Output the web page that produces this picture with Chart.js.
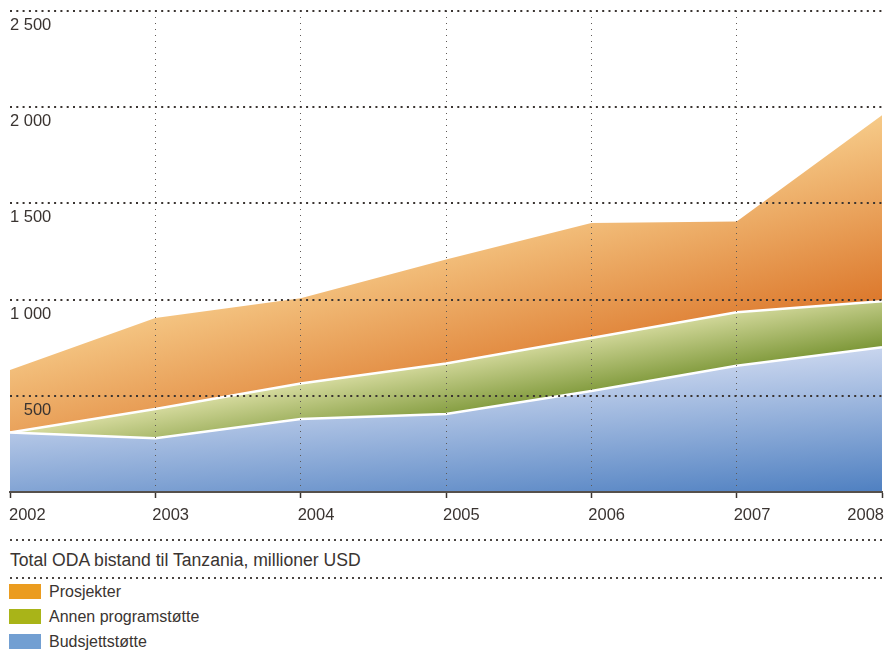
<!DOCTYPE html>
<html>
<head>
<meta charset="utf-8">
<script src="https://cdn.jsdelivr.net/npm/chart.js@4"></script>
<style>
  body { margin: 0; background: #fff; font-family: "Liberation Sans", Arial, sans-serif; color: #3a3431; }
  #wrap { position: relative; width: 886px; height: 650px; }
  #chart { position: absolute; left: 0; top: 0; }
  .dots { position: absolute; left: 10px; width: 872px; height: 2px;
          background-image: linear-gradient(to right, #4a4542 2px, transparent 2px); background-size: 6px 2px; }
  #title { position: absolute; left: 10px; top: 549px; font-size: 17.6px; line-height: 22px; white-space: nowrap; }
  .item { position: absolute; left: 9px; height: 15px; }
  .item .box { position: absolute; left: 0; top: 0; width: 32px; height: 15px; }
  .item .txt { position: absolute; left: 40px; top: -1px; font-size: 16px; line-height: 18px; white-space: nowrap; }
</style>
</head>
<body>
<div id="wrap">
  <canvas id="chart" width="886" height="530"></canvas>
  <div class="dots" style="top:539px"></div>
  <div id="title">Total ODA bistand til Tanzania, millioner USD</div>
  <div class="dots" style="top:577px"></div>
  <div id="legend"></div>
</div>
<script>
// data, millioner USD
const years = ['2002', '2003', '2004', '2005', '2006', '2007', '2008'];
const budsjett = [309, 280, 379, 405, 525, 656, 752];
const annen = [0, 151, 185, 263, 275, 278, 239];
const prosjekter = [325, 474, 443, 540, 598, 472, 967];
const yTickLabels = ['', '500', '1 000', '1 500', '2 000', '2 500'];

const seriesNames = ['Prosjekter', 'Annen programstøtte', 'Budsjettstøtte'];
const legendColors = ['#eb9c1f', '#a9b418', '#729fd2'];

// cumulative tops for the gradients
const top1 = budsjett;
const top2 = budsjett.map((v, i) => v + annen[i]);
const top3 = top2.map((v, i) => v + prosjekter[i]);
const zero = years.map(() => 0);

function layerGrad(chart, top, bottom, pad, s, light, dark) {
  const area = chart.chartArea;
  if (!area) return light;
  const y = chart.scales.y;
  const x0 = area.right;
  const y0 = y.getPixelForValue(Math.max(...top)) - pad;
  const y1 = y.getPixelForValue(Math.max(...bottom));
  const h = y1 - y0;
  const g = chart.ctx.createLinearGradient(x0, y0, x0 + s * h / (1 + s * s), y0 + h / (1 + s * s));
  g.addColorStop(0, light);
  g.addColorStop(1, dark);
  return g;
}

const textColor = '#3a3431';
const font = { family: '"Liberation Sans", Arial, sans-serif', size: 16.5 };

const xLabelsPlugin = {
  id: 'xLabels',
  afterDraw(chart) {
    const ctx = chart.ctx, x = chart.scales.x;
    const yPos = chart.chartArea.bottom + 23;
    ctx.save();
    ctx.font = '16.5px "Liberation Sans", Arial, sans-serif';
    ctx.fillStyle = textColor;
    ctx.textBaseline = 'middle';
    years.forEach((lab, i) => {
      const px = x.getPixelForValue(i);
      if (i === years.length - 1) { ctx.textAlign = 'right'; ctx.fillText(lab, px + 2, yPos); }
      else if (i === 0) { ctx.textAlign = 'left'; ctx.fillText(lab, px - 1, yPos); }
      else { ctx.textAlign = 'left'; ctx.fillText(lab, px - 3, yPos); }
    });
    ctx.restore();
  }
};

new Chart(document.getElementById('chart'), {
  type: 'line',
  data: {
    labels: years,
    datasets: [
      {
        label: seriesNames[2],
        data: budsjett,
        fill: 'origin',
        borderColor: '#ffffff',
        borderWidth: 2.5,
        pointRadius: 0,
        backgroundColor: c => layerGrad(c.chart, top1, zero, 3, 0.07, '#cbd7ef', '#4f80c1')
      },
      {
        label: seriesNames[1],
        data: annen,
        fill: '-1',
        borderColor: '#ffffff',
        borderWidth: 2.5,
        pointRadius: 0,
        backgroundColor: c => layerGrad(c.chart, top2, top1, 19, 0.17, '#d9dda2', '#7b9636')
      },
      {
        label: seriesNames[0],
        data: prosjekter,
        fill: '-1',
        borderColor: 'rgba(255,255,255,0)',
        borderWidth: 0,
        pointRadius: 0,
        backgroundColor: c => layerGrad(c.chart, top3, top2, 0, 0.26, '#f6ca88', '#dc782c')
      }
    ]
  },
  options: {
    responsive: false,
    animation: false,
    layout: { padding: { left: 10, right: 4, top: 11, bottom: 32 } },
    plugins: {
      legend: { display: false },
      tooltip: { enabled: false }
    },
    scales: {
      x: {
        offset: false,
        border: { display: true, color: '#55504c', width: 2, dash: [1, 5], z: 2 },
        grid: {
          z: 1,
          color: c => (c.index === 0 || c.index === years.length - 1) ? 'rgba(0,0,0,0)' : '#5e5956',
          lineWidth: 1,
          drawTicks: true,
          tickLength: 6,
          tickColor: '#3a3431',
          tickWidth: 1.5,
          tickBorderDash: []
        },
        ticks: { display: false }
      },
      y: {
        stacked: true,
        min: 0,
        max: 2500,
        border: { display: false, dash: [2, 4.3] },
        grid: {
          z: 1,
          color: c => c.tick && c.tick.value === 0 ? 'rgba(0,0,0,0)' : '#3a3431',
          lineWidth: 2,
          drawTicks: false
        },
        ticks: {
          z: 1,
          stepSize: 500,
          mirror: true,
          crossAlign: 'far',
          padding: 0,
          labelOffset: 14.5,
          color: textColor,
          font: font,
          callback: (v, i) => yTickLabels[i]
        }
      }
    }
  },
  plugins: [xLabelsPlugin]
});

// legend below the chart
const legend = document.getElementById('legend');
seriesNames.forEach((name, i) => {
  const row = document.createElement('div');
  row.className = 'item';
  row.style.top = (584 + i * 25) + 'px';
  row.innerHTML = '<span class="box" style="background:' + legendColors[i] + '"></span><span class="txt">' + name + '</span>';
  legend.appendChild(row);
});
</script>
</body>
</html>
